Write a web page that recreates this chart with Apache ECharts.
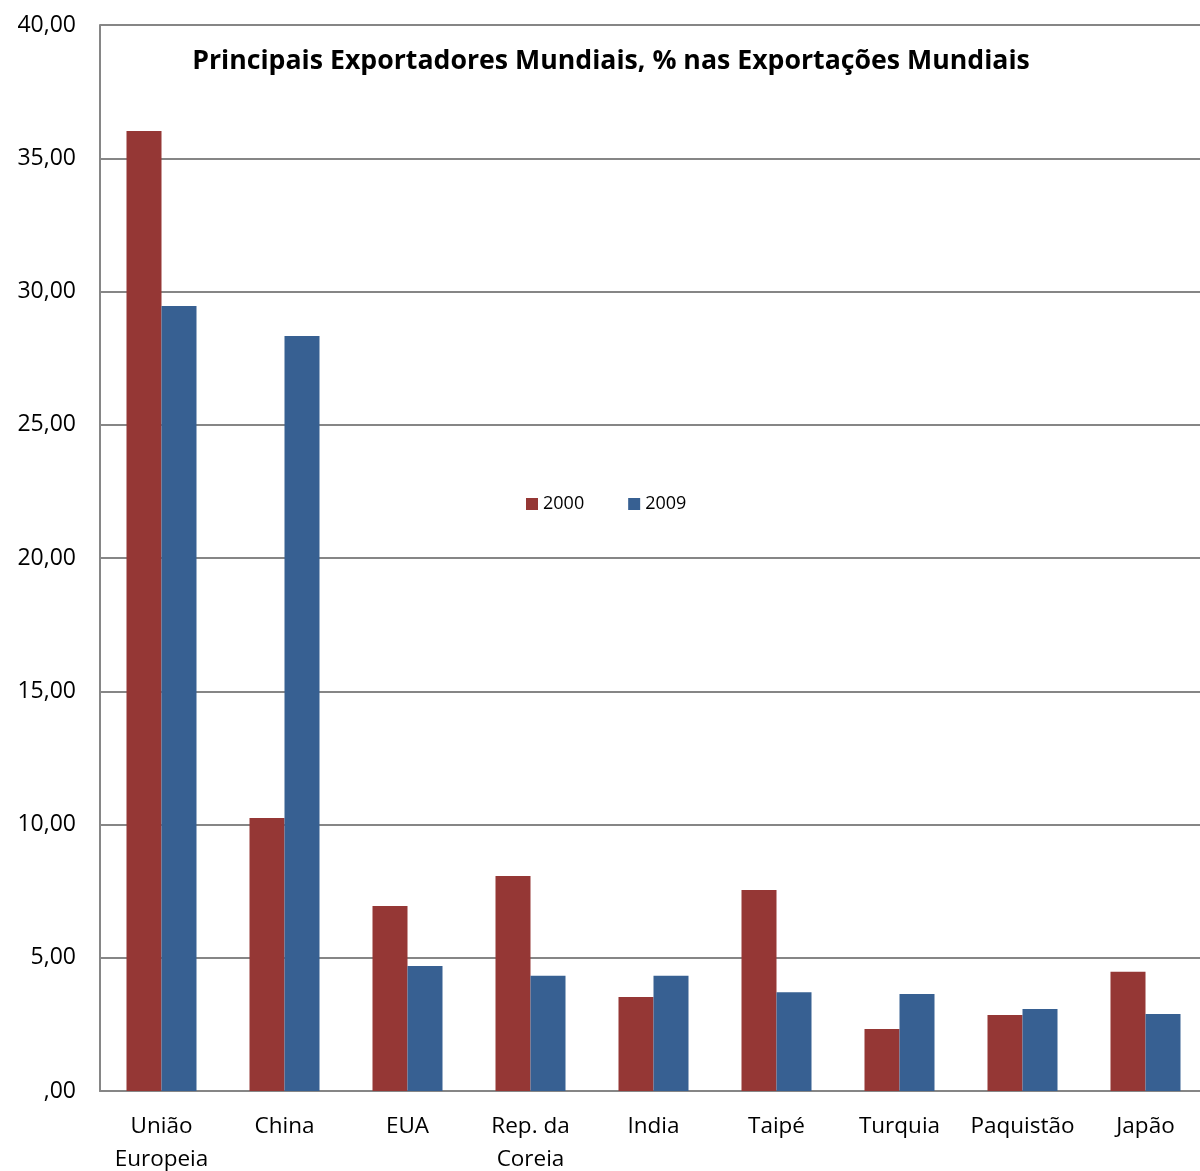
<!DOCTYPE html>
<html>
<head>
<meta charset="utf-8">
<script src="https://cdn.jsdelivr.net/npm/echarts@6/dist/echarts.min.js"></script>
<style>
  html, body { margin: 0; padding: 0; background: #fff; }
  #main { width: 1200px; height: 1171px; }
</style>
</head>
<body>
<div id="main"></div>
<script>
// dados
var categorias = ['União\nEuropeia', 'China', 'EUA', 'Rep. da\nCoreia', 'India', 'Taipé', 'Turquia', 'Paquistão', 'Japão'];
var anos = ['2000', '2009'];
var valores2000 = [36.02, 10.24, 6.94, 8.07, 3.53, 7.54, 2.33, 2.85, 4.47];
var valores2009 = [29.46, 28.33, 4.69, 4.32, 4.32, 3.71, 3.64, 3.08, 2.89];

var fonte = 'Open Sans, Noto Sans, sans-serif';

var chart = echarts.init(document.getElementById('main'), null, { renderer: 'canvas' });

var option = {
  backgroundColor: '#fff',
  animation: false,
  color: ['#953735', '#376092'],
  title: {
    text: 'Principais Exportadores Mundiais, % nas Exportações Mundiais',
    left: 611,
    textAlign: 'center',
    top: 48,
    padding: 0,
    textStyle: {
      fontFamily: fonte,
      fontSize: 26.7,
      fontWeight: 'bold',
      color: '#000'
    }
  },
  legend: {
    data: anos,
    left: 526,
    top: 495,
    padding: 0,
    itemWidth: 12,
    itemHeight: 12,
    itemGap: 44,
    icon: 'rect',
    textStyle: { fontFamily: fonte, fontSize: 18, color: '#000' }
  },
  grid: {
    left: 100,
    top: 25,
    width: 1107,
    height: 1066,
    outerBoundsMode: 'none'
  },
  xAxis: {
    type: 'category',
    data: categorias,
    axisLine: { lineStyle: { color: '#868686', width: 2 } },
    axisTick: { show: false },
    axisLabel: {
      fontFamily: fonte,
      fontSize: 22.5,
      color: '#000',
      lineHeight: 33,
      margin: 19,
      interval: 0
    }
  },
  yAxis: {
    type: 'value',
    min: 0,
    max: 40,
    interval: 5,
    axisLine: { show: true, lineStyle: { color: '#868686', width: 2 } },
    axisTick: { show: false },
    splitLine: { lineStyle: { color: '#868686', width: 2 } },
    axisLabel: {
      fontFamily: fonte,
      fontSize: 23,
      color: '#000',
      margin: 24,
      formatter: function (v) {
        var s = v.toFixed(2).replace('.', ',');
        if (v === 0) s = ',00';
        return s;
      }
    }
  },
  series: [
    { name: anos[0], type: 'bar', data: valores2000, barWidth: 35, barGap: '0%' },
    { name: anos[1], type: 'bar', data: valores2009, barWidth: 35, barGap: '0%' }
  ]
};

chart.setOption(option);
</script>
</body>
</html>
